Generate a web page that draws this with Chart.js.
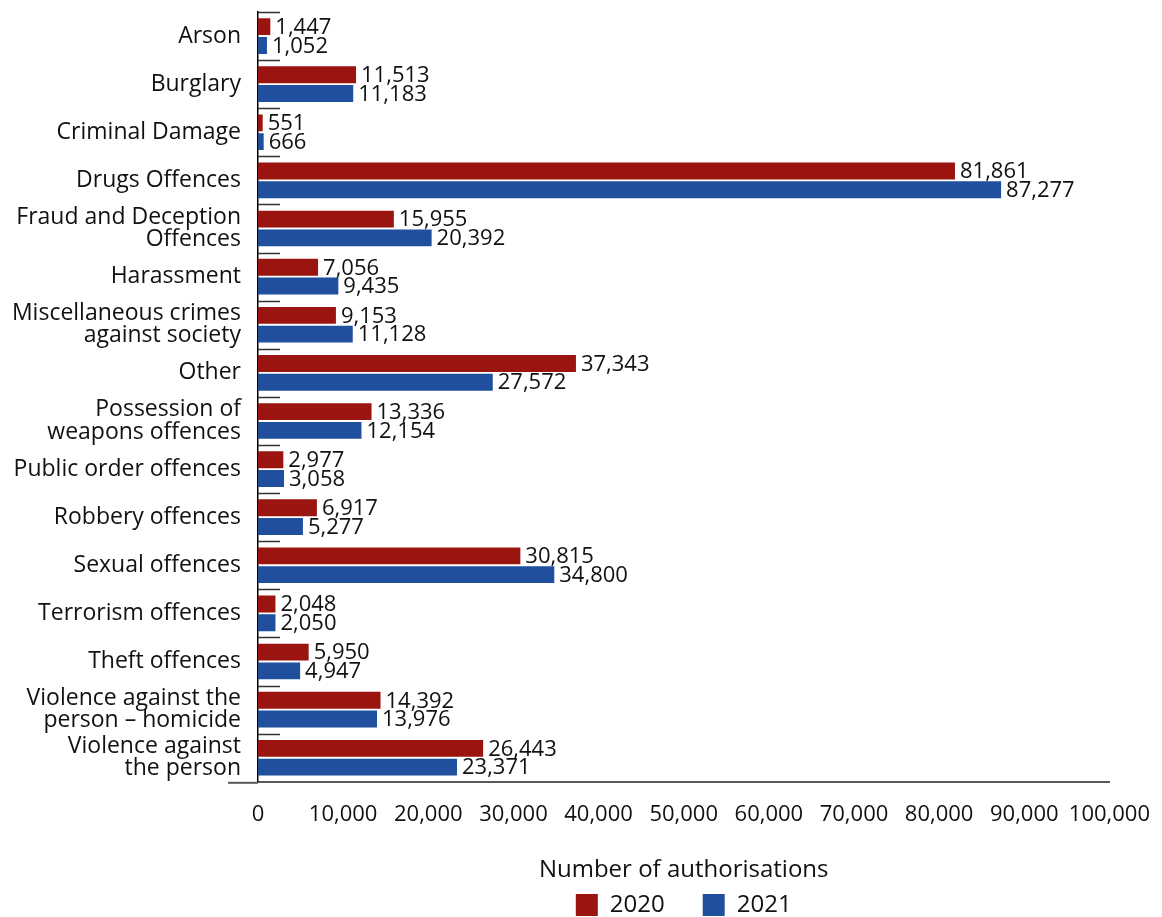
<!DOCTYPE html>
<html lang="en">
<head>
  <meta charset="UTF-8" />
  <title>Authorisations by offence</title>
  <script src="https://cdn.jsdelivr.net/npm/chart.js"></script>
  <style>
    html, body { margin: 0; padding: 0; background: #fff; }
    #wrap { width: 1162px; height: 917px; position: relative; }
  </style>
</head>
<body>
  <div id="wrap"><canvas id="offenceChart"></canvas></div>

  <script>
    const categories = [
      "Arson", "Burglary", "Criminal Damage", "Drugs Offences",
      ["Fraud and Deception", "Offences"], "Harassment",
      ["Miscellaneous crimes", "against society"], "Other",
      ["Possession of", "weapons offences"], "Public order offences",
      "Robbery offences", "Sexual offences", "Terrorism offences",
      "Theft offences", ["Violence against the", "person \u2013 homicide"],
      ["Violence against", "the person"]
    ];
    const values2020 = [1447, 11513, 551, 81861, 15955, 7056, 9153, 37343, 13336, 2977, 6917, 30815, 2048, 5950, 14392, 26443];
    const values2021 = [1052, 11183, 666, 87277, 20392, 9435, 11128, 27572, 12154, 3058, 5277, 34800, 2050, 4947, 13976, 23371];
    const seriesNames = ["2020", "2021"];
    const xTicksMax = 100000;
    const xTickStep = 10000;

    const red = "#9B1510";
    const blue = "#1F4F9D";
    const fontFamily = "'Open Sans', 'Noto Sans', sans-serif";

    // value labels after each bar + small category marks on the y axis
    const extras = {
      id: "extras",
      afterDatasetsDraw(chart) {
        const ctx = chart.ctx;
        ctx.save();
        ctx.font = "22px " + fontFamily;
        ctx.fillStyle = "#111";
        ctx.textBaseline = "middle";
        chart.data.datasets.forEach((ds, di) => {
          chart.getDatasetMeta(di).data.forEach((bar, i) => {
            ctx.fillText(ds.data[i].toLocaleString("en-US"), bar.x + 5, bar.y + 1);
          });
        });
        const y = chart.scales.y;
        const area = chart.chartArea;
        ctx.strokeStyle = "#333";
        ctx.lineWidth = 1.5;
        for (let i = 0; i < categories.length; i++) {
          const py = Math.round(y.getPixelForValue(i - 0.5)) + 0.5;
          ctx.beginPath();
          ctx.moveTo(area.left, py);
          ctx.lineTo(area.left + 22, py);
          ctx.stroke();
        }
        // x axis runs a little past the y axis on the left
        ctx.strokeStyle = "#595959";
        ctx.lineWidth = 2;
        ctx.beginPath();
        ctx.moveTo(area.left - 30, area.bottom + 1);
        ctx.lineTo(area.left, area.bottom + 1);
        ctx.stroke();
        ctx.restore();
      }
    };

    new Chart(document.getElementById("offenceChart"), {
      type: "bar",
      data: {
        labels: categories,
        datasets: [
          { label: seriesNames[0], data: values2020, backgroundColor: red },
          { label: seriesNames[1], data: values2021, backgroundColor: blue }
        ]
      },
      options: {
        indexAxis: "y",
        responsive: true,
        maintainAspectRatio: false,
        animation: false,
        datasets: { bar: { categoryPercentage: 0.78, barPercentage: 0.9 } },
        layout: { padding: { top: 12, right: 49, bottom: -10, left: 0 } },
        scales: {
          x: {
            min: 0,
            max: xTicksMax,
            grid: { display: false },
            border: { display: true, color: "#595959", width: 2 },
            ticks: {
              stepSize: xTickStep,
              autoSkip: false,
              maxRotation: 0,
              minRotation: 0,
              color: "#111",
              padding: 12,
              font: { family: fontFamily, size: 22 },
              callback: v => v.toLocaleString("en-US")
            }
          },
          y: {
            grid: { display: false },
            border: { display: true, color: "#000", width: 1.5 },
            ticks: {
              autoSkip: false,
              color: "#111",
              padding: 9,
              font: { family: fontFamily, size: 23, lineHeight: 0.96 }
            },
            afterFit(scale) {
              scale.width = 258;
              scale.paddingTop = 0;
              scale.paddingBottom = 0;
            }
          }
        },
        plugins: {
          tooltip: { enabled: false },
          legend: {
            position: "bottom",
            fullSize: false,
            title: {
              display: true,
              text: "Number of authorisations",
              color: "#111",
              padding: { top: 18, bottom: -32 },
              font: { family: fontFamily, size: 24 }
            },
            labels: {
              color: "#111",
              boxWidth: 22,
              boxHeight: 22,
              padding: 38,
              font: { family: fontFamily, size: 24 }
            }
          }
        }
      },
      plugins: [extras]
    });
  </script>
</body>
</html>
